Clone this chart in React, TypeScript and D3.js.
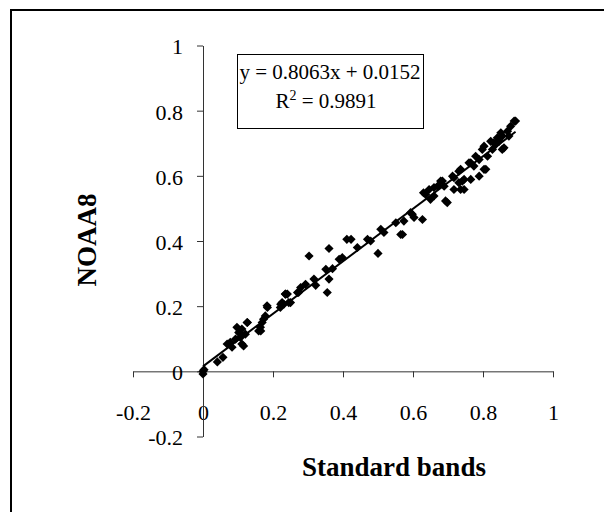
import * as d3 from 'd3'
import { useEffect, useRef } from 'react'

// Standard bands (x) vs NOAA8 (y)
const standardBands = [
  0, 0, 0.003, 0.041, 0.057,
  0.069, 0.078, 0.083, 0.093, 0.097, 0.102, 0.107, 0.111, 0.111, 0.116, 0.121, 0.126, 0.127,
  0.159, 0.164, 0.165, 0.169, 0.173, 0.178, 0.183, 0.184,
  0.221, 0.222, 0.226, 0.231, 0.235, 0.236, 0.241, 0.245, 0.25, 0.27, 0.273, 0.279, 0.293,
  0.303, 0.317, 0.322, 0.351, 0.355, 0.36, 0.36, 0.37, 0.389, 0.398, 0.411, 0.423,
  0.441, 0.47, 0.479, 0.5, 0.508, 0.517, 0.551, 0.565, 0.57, 0.574, 0.593, 0.598, 0.603,
  0.627, 0.63, 0.636, 0.646, 0.65, 0.66, 0.66, 0.67, 0.679, 0.684, 0.689, 0.693, 0.698,
  0.713, 0.717, 0.717, 0.731, 0.731, 0.736, 0.736, 0.741, 0.746, 0.746, 0.76, 0.765, 0.765,
  0.774, 0.779, 0.789, 0.789, 0.798, 0.803, 0.803, 0.808, 0.813, 0.822, 0.827, 0.831, 0.836,
  0.841, 0.846, 0.851, 0.855, 0.855, 0.86, 0.87, 0.874, 0.879, 0.889, 0.893,
]
const noaa8 = [
  0, -0.008, 0.005, 0.029, 0.043,
  0.084, 0.089, 0.074, 0.099, 0.135, 0.119, 0.104, 0.13, 0.084, 0.078, 0.114, 0.15, 0.15,
  0.124, 0.135, 0.124, 0.15, 0.16, 0.17, 0.201, 0.196,
  0.196, 0.206, 0.211, 0.206, 0.237, 0.237, 0.237, 0.211, 0.211, 0.242, 0.242, 0.257, 0.267,
  0.354, 0.283, 0.264, 0.313, 0.242, 0.283, 0.377, 0.315, 0.344, 0.349, 0.405, 0.405,
  0.38, 0.405, 0.4, 0.362, 0.436, 0.426, 0.456, 0.42, 0.42, 0.461, 0.487, 0.482, 0.472,
  0.466, 0.548, 0.543, 0.558, 0.528, 0.538, 0.564, 0.568, 0.584, 0.584, 0.568, 0.523, 0.518,
  0.599, 0.594, 0.558, 0.614, 0.579, 0.62, 0.558, 0.584, 0.589, 0.558, 0.64, 0.64, 0.589,
  0.63, 0.66, 0.65, 0.599, 0.681, 0.691, 0.62, 0.62, 0.66, 0.706, 0.681, 0.701, 0.696,
  0.717, 0.706, 0.732, 0.681, 0.722, 0.686, 0.737, 0.722, 0.752, 0.768, 0.768,
]

const xTicks = [-0.2, 0, 0.2, 0.4, 0.6, 0.8, 1]
const yTicks = [-0.2, 0, 0.2, 0.4, 0.6, 0.8, 1]

const slope = 0.8063
const intercept = 0.0152
const equation = 'y = 0.8063x + 0.0152'
const rSquared = '0.9891'

const serif = '"Liberation Serif", "Times New Roman", serif'

const App = () => {
  const svgRef = useRef(null)

  useEffect(() => {
    const svg = d3.select(svgRef.current)
    svg.selectAll('*').remove()

    const x = d3.scaleLinear().domain([-0.2, 1]).range([133, 553])
    const y = d3.scaleLinear().domain([-0.2, 1]).range([436.5, 45.5])

    // outer chart border (right and bottom run off the page)
    svg
      .append('rect')
      .attr('x', 11)
      .attr('y', 10)
      .attr('width', 700)
      .attr('height', 700)
      .attr('fill', 'none')
      .attr('stroke', '#000')
      .attr('stroke-width', 2)

    // axes cross at zero
    const xAxis = d3
      .axisBottom(x)
      .tickValues(xTicks)
      .tickFormat((d) => String(d))
      .tickSize(6)
      .tickSizeOuter(0)
      .tickPadding(27)
    const yAxis = d3
      .axisLeft(y)
      .tickValues(yTicks)
      .tickFormat((d) => String(d))
      .tickSize(6)
      .tickSizeOuter(0)
      .tickPadding(14)

    const gx = svg.append('g').attr('transform', `translate(0,${y(0)})`).call(xAxis)
    const gy = svg.append('g').attr('transform', `translate(${x(0)},0)`).call(yAxis)

    for (const g of [gx, gy]) {
      g.attr('font-family', serif).attr('font-size', 22)
      g.selectAll('path, line').attr('stroke', '#333')
      g.selectAll('text').attr('fill', '#000')
    }
    gy.selectAll('text').attr('dy', '0.38em')

    // linear trendline
    const xExtent = d3.extent(standardBands)
    const line = d3
      .line()
      .x((d) => x(d))
      .y((d) => y(slope * d + intercept))
    svg
      .append('path')
      .attr('d', line(xExtent))
      .attr('fill', 'none')
      .attr('stroke', '#000')
      .attr('stroke-width', 2)

    // diamond markers
    const diamond = d3.symbol(d3.symbolSquare, 42)
    svg
      .append('g')
      .selectAll('path')
      .data(standardBands)
      .enter()
      .append('path')
      .attr('d', diamond())
      .attr('transform', (d, i) => `translate(${x(d)},${y(noaa8[i])}) rotate(45)`)
      .attr('fill', '#000')

    // equation box
    svg
      .append('rect')
      .attr('x', 237.5)
      .attr('y', 54.5)
      .attr('width', 186)
      .attr('height', 74)
      .attr('fill', '#fff')
      .attr('stroke', '#000')
      .attr('stroke-width', 1)

    svg
      .append('text')
      .attr('x', 330)
      .attr('y', 79)
      .attr('text-anchor', 'middle')
      .attr('font-family', serif)
      .attr('font-size', 21)
      .text(equation)

    const r2 = svg
      .append('text')
      .attr('x', 326)
      .attr('y', 108)
      .attr('text-anchor', 'middle')
      .attr('font-family', serif)
      .attr('font-size', 21)
    r2.append('tspan').text('R')
    r2.append('tspan').attr('dy', -8).attr('font-size', 14).text('2')
    r2.append('tspan').attr('dy', 8).text(` = ${rSquared}`)

    // axis titles
    svg
      .append('text')
      .attr('x', 394)
      .attr('y', 476)
      .attr('text-anchor', 'middle')
      .attr('font-family', serif)
      .attr('font-size', 27)
      .attr('font-weight', 'bold')
      .text('Standard bands')

    svg
      .append('text')
      .attr('transform', 'translate(96,240) rotate(-90)')
      .attr('text-anchor', 'middle')
      .attr('font-family', serif)
      .attr('font-size', 27)
      .attr('font-weight', 'bold')
      .text('NOAA8')
  }, [])

  return (
    <svg
      ref={svgRef}
      width={604}
      height={512}
      style={{ position: 'absolute', left: 0, top: 0, background: '#fff' }}
    />
  )
}

export default App
